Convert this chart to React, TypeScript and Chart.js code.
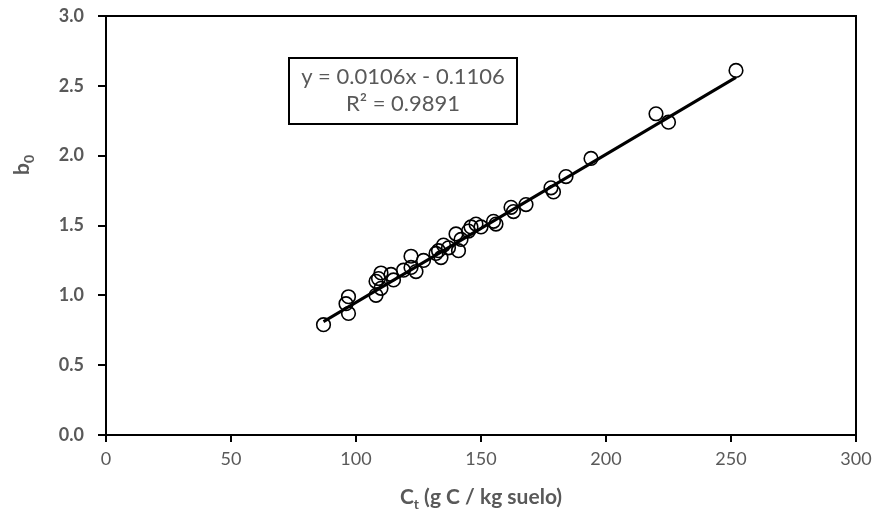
import React, { useEffect, useRef } from "react";
import { Chart, registerables } from "chart.js";

Chart.register(...registerables);

const ctValues = [87, 96, 97, 97, 108, 108, 109, 110, 110, 114, 115, 119, 122, 122, 124, 127, 132, 133, 134, 135, 137, 140, 141, 142, 145, 146, 148, 150, 155, 156, 162, 163, 168, 178, 179, 184, 194, 220, 225, 252];
const b0Values = [0.79, 0.94, 0.99, 0.87, 1.00, 1.10, 1.12, 1.16, 1.05, 1.15, 1.11, 1.18, 1.28, 1.20, 1.17, 1.25, 1.30, 1.32, 1.27, 1.36, 1.34, 1.44, 1.32, 1.40, 1.46, 1.49, 1.51, 1.49, 1.53, 1.51, 1.63, 1.60, 1.65, 1.77, 1.74, 1.85, 1.98, 2.30, 2.24, 2.61];

const slope = 0.0106;
const intercept = -0.1106;
const trendX = [87, 252];

const xTicks = [0, 50, 100, 150, 200, 250, 300];
const yTicks = [0, 0.5, 1, 1.5, 2, 2.5, 3];

const eqLine1 = "y = 0.0106x - 0.1106";
const eqLine2 = "R² = 0.9891";

const GRAY = "#595959";
const FONT = "Lato, 'Open Sans', sans-serif";

const overlay = {
  id: "overlay",
  afterDraw(chart: any) {
    const { ctx, chartArea } = chart;
    const { left, right, top, bottom } = chartArea;
    ctx.save();
    ctx.strokeStyle = "#000";
    ctx.lineWidth = 2;
    ctx.strokeRect(left, top, right - left, bottom - top);

    const bx = left + 183, by = top + 42, bw = 228, bh = 66;
    ctx.fillStyle = "#fff";
    ctx.fillRect(bx, by, bw, bh);
    ctx.strokeRect(bx, by, bw, bh);
    ctx.fillStyle = GRAY;
    ctx.font = `22px ${FONT}`;
    ctx.textAlign = "center";
    ctx.textBaseline = "middle";
    ctx.fillText(eqLine1, bx + bw / 2, by + 19);
    ctx.fillText(eqLine2, bx + bw / 2, by + 46);

    ctx.textAlign = "left";
    ctx.textBaseline = "alphabetic";
    const big = `bold 21px ${FONT}`;
    const small = `bold 14px ${FONT}`;
    ctx.font = big;
    const wC = ctx.measureText("C").width;
    const rest = " (g C / kg suelo)";
    const wRest = ctx.measureText(rest).width;
    ctx.font = small;
    const wt = ctx.measureText("t").width;
    const total = wC + wt + wRest;
    const x0 = (left + right) / 2 - total / 2;
    const yBase = 504;
    ctx.font = big;
    ctx.fillText("C", x0, yBase);
    ctx.font = small;
    ctx.fillText("t", x0 + wC, yBase + 5);
    ctx.font = big;
    ctx.fillText(rest, x0 + wC + wt, yBase);

    ctx.translate(29, 165);
    ctx.rotate(-Math.PI / 2);
    ctx.font = big;
    const wb = ctx.measureText("b").width;
    ctx.font = small;
    const w0 = ctx.measureText("0").width;
    const tot = wb + w0;
    ctx.font = big;
    ctx.fillText("b", -tot / 2, 0);
    ctx.font = small;
    ctx.fillText("0", -tot / 2 + wb, 5);
    ctx.restore();
  },
};

export default function App() {
  const ref = useRef<HTMLCanvasElement>(null);
  useEffect(() => {
    document.body.style.margin = "0";
    const chart = new Chart(ref.current as HTMLCanvasElement, {
      type: "scatter",
      data: {
        datasets: [
          {
            type: "line",
            data: trendX.map((x) => ({ x, y: slope * x + intercept })),
            borderColor: "#000",
            borderWidth: 3,
            pointRadius: 0,
            fill: false,
            order: 0,
          } as any,
          {
            data: ctValues.map((x, i) => ({ x, y: b0Values[i] })),
            pointRadius: 6.8,
            pointBorderWidth: 1.6,
            pointBorderColor: "#000",
            pointBackgroundColor: "rgba(0,0,0,0)",
            order: 1,
          },
        ],
      },
      options: {
        animation: false,
        responsive: false,
        events: [],
        layout: { padding: { left: 0, right: 24, top: 16, bottom: 0 } },
        plugins: { legend: { display: false }, tooltip: { enabled: false } },
        scales: {
          x: {
            type: "linear",
            min: 0,
            max: 300,
            afterFit: (s: any) => { s.height = 85; s.paddingLeft = 0; s.paddingRight = 0; },
            afterBuildTicks: (s: any) => { s.ticks = xTicks.map((v) => ({ value: v })); },
            border: { color: "#000", width: 2 },
            grid: { drawOnChartArea: false, tickLength: 7, color: "#000", lineWidth: 2 },
            ticks: { color: GRAY, padding: 6, font: { family: FONT, size: 18 } },
          },
          y: {
            type: "linear",
            min: 0,
            max: 3,
            afterFit: (s: any) => { s.width = 106; s.paddingTop = 0; s.paddingBottom = 0; },
            afterBuildTicks: (s: any) => { s.ticks = yTicks.map((v) => ({ value: v })); },
            border: { color: "#000", width: 2 },
            grid: { drawOnChartArea: false, tickLength: 8, color: "#000", lineWidth: 2 },
            ticks: {
              color: GRAY,
              padding: 14,
              font: { family: FONT, size: 18, weight: "bold" },
              callback: (v: any) => Number(v).toFixed(1),
            },
          },
        },
      },
      plugins: [overlay],
    });
    return () => chart.destroy();
  }, []);
  return <canvas ref={ref} width={880} height={520} style={{ display: "block" }} />;
}
